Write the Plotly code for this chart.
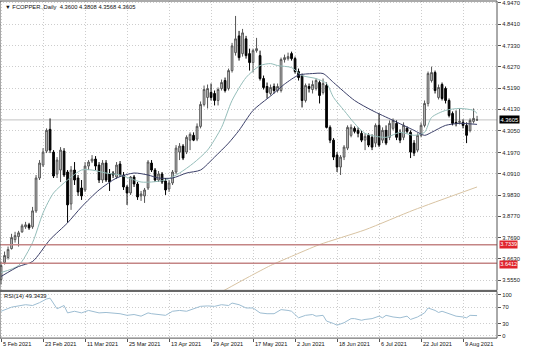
import plotly.graph_objects as go

# ---------------- data ----------------
opens = [3.560, 3.645, 3.670, 3.715, 3.760, 3.775, 3.799, 3.824, 3.834, 3.824,
         3.904, 4.069, 4.134, 4.204, 4.313, 4.199, 4.089, 4.109, 4.204, 4.099,
         3.939, 4.109, 4.069, 4.019, 4.009, 4.129, 4.154, 4.164, 4.134, 4.059,
         4.144, 4.089, 4.094, 4.074, 4.139, 4.084, 4.024, 3.994, 4.074, 4.039,
         3.979, 3.979, 4.019, 4.144, 4.109, 4.059, 4.089, 4.054, 4.014, 4.044,
         4.099, 4.199, 4.229, 4.199, 4.259, 4.283, 4.264, 4.328, 4.438, 4.473,
         4.498, 4.493, 4.458, 4.518, 4.558, 4.518, 4.608, 4.698, 4.782, 4.693,
         4.767, 4.693, 4.648, 4.708, 4.683, 4.568, 4.528, 4.493, 4.528, 4.508,
         4.508, 4.663, 4.668, 4.693, 4.668, 4.603, 4.583, 4.458, 4.528, 4.513,
         4.518, 4.548, 4.498, 4.533, 4.323, 4.259, 4.184, 4.124, 4.174, 4.219,
         4.283, 4.318, 4.308, 4.293, 4.259, 4.283, 4.273, 4.244, 4.333, 4.259,
         4.308, 4.273, 4.318, 4.343, 4.298, 4.273, 4.318, 4.298, 4.244, 4.209,
         4.283, 4.333, 4.443, 4.558, 4.598, 4.473, 4.538, 4.518, 4.458, 4.393,
         4.348, 4.348, 4.348, 4.333, 4.308, 4.353, 4.3600]
highs = [3.650, 3.700, 3.725, 3.789, 3.799, 3.804, 3.839, 3.849, 3.844, 3.924,
         4.084, 4.159, 4.219, 4.318, 4.368, 4.209, 4.174, 4.224, 4.219, 4.109,
         4.129, 4.149, 4.084, 4.059, 4.149, 4.159, 4.184, 4.179, 4.149, 4.159,
         4.159, 4.114, 4.104, 4.149, 4.154, 4.099, 4.034, 4.079, 4.084, 4.049,
         4.004, 4.019, 4.159, 4.159, 4.119, 4.104, 4.099, 4.069, 4.059, 4.109,
         4.234, 4.244, 4.239, 4.283, 4.298, 4.298, 4.343, 4.453, 4.533, 4.538,
         4.543, 4.508, 4.523, 4.563, 4.573, 4.618, 4.747, 4.882, 4.807, 4.817,
         4.782, 4.718, 4.718, 4.772, 4.708, 4.583, 4.548, 4.538, 4.543, 4.543,
         4.673, 4.688, 4.698, 4.703, 4.678, 4.618, 4.593, 4.543, 4.543, 4.558,
         4.568, 4.558, 4.568, 4.548, 4.333, 4.269, 4.199, 4.184, 4.234, 4.333,
         4.338, 4.328, 4.323, 4.308, 4.293, 4.293, 4.288, 4.343, 4.393, 4.323,
         4.333, 4.358, 4.368, 4.358, 4.313, 4.348, 4.328, 4.308, 4.259, 4.293,
         4.348, 4.458, 4.603, 4.628, 4.608, 4.538, 4.548, 4.528, 4.468, 4.403,
         4.408, 4.418, 4.363, 4.348, 4.368, 4.418, 4.3808]
lows = [3.535, 3.635, 3.660, 3.710, 3.745, 3.725, 3.794, 3.814, 3.809, 3.814,
        3.894, 4.059, 4.124, 4.194, 4.194, 4.069, 4.069, 4.049, 4.074, 3.844,
        3.909, 4.034, 3.979, 3.959, 3.999, 4.109, 4.144, 4.109, 4.044, 4.044,
        4.049, 4.004, 4.069, 4.064, 4.074, 4.009, 3.934, 3.984, 4.024, 3.959,
        3.954, 3.944, 4.009, 4.099, 4.049, 4.049, 4.039, 3.984, 3.999, 4.034,
        4.089, 4.159, 4.159, 4.189, 4.209, 4.254, 4.254, 4.318, 4.428, 4.418,
        4.458, 4.433, 4.433, 4.508, 4.498, 4.508, 4.598, 4.683, 4.658, 4.678,
        4.668, 4.608, 4.598, 4.698, 4.558, 4.513, 4.468, 4.483, 4.493, 4.498,
        4.498, 4.648, 4.658, 4.658, 4.593, 4.558, 4.423, 4.448, 4.498, 4.493,
        4.508, 4.443, 4.488, 4.318, 4.244, 4.159, 4.099, 4.084, 4.159, 4.209,
        4.273, 4.293, 4.273, 4.249, 4.209, 4.224, 4.209, 4.224, 4.224, 4.244,
        4.234, 4.259, 4.308, 4.259, 4.244, 4.259, 4.293, 4.169, 4.179, 4.199,
        4.273, 4.323, 4.428, 4.548, 4.493, 4.463, 4.458, 4.443, 4.373, 4.333,
        4.328, 4.338, 4.318, 4.244, 4.298, 4.343, 4.3568]
closes = [3.630, 3.680, 3.710, 3.770, 3.780, 3.794, 3.829, 3.834, 3.819, 3.904,
          4.069, 4.144, 4.199, 4.308, 4.209, 4.079, 4.159, 4.209, 4.084, 3.934,
          4.109, 4.059, 3.999, 3.979, 4.129, 4.149, 4.164, 4.129, 4.059, 4.144,
          4.059, 4.049, 4.084, 4.134, 4.084, 4.024, 3.994, 4.074, 4.039, 3.974,
          3.989, 4.009, 4.149, 4.109, 4.059, 4.089, 4.049, 4.009, 4.044, 4.099,
          4.219, 4.229, 4.169, 4.273, 4.288, 4.259, 4.328, 4.438, 4.513, 4.518,
          4.473, 4.458, 4.513, 4.548, 4.508, 4.608, 4.732, 4.767, 4.673, 4.797,
          4.683, 4.648, 4.708, 4.718, 4.568, 4.523, 4.498, 4.523, 4.508, 4.528,
          4.663, 4.673, 4.678, 4.668, 4.603, 4.573, 4.458, 4.533, 4.518, 4.538,
          4.558, 4.483, 4.543, 4.323, 4.259, 4.174, 4.124, 4.174, 4.224, 4.323,
          4.323, 4.303, 4.293, 4.259, 4.278, 4.234, 4.224, 4.333, 4.234, 4.308,
          4.244, 4.343, 4.358, 4.273, 4.259, 4.333, 4.303, 4.199, 4.194, 4.283,
          4.333, 4.443, 4.593, 4.598, 4.508, 4.523, 4.468, 4.458, 4.383, 4.343,
          4.343, 4.353, 4.333, 4.283, 4.358, 4.368, 4.3605]
bars = list(range(len(opens)))

date_tick_bars = [0, 12, 24, 36, 48, 60, 72, 84, 96, 108, 120, 132]
date_tick_labels = ["5 Feb 2021", "23 Feb 2021", "11 Mar 2021", "25 Mar 2021",
                    "13 Apr 2021", "29 Apr 2021", "17 May 2021", "2 Jun 2021",
                    "18 Jun 2021", "6 Jul 2021", "22 Jul 2021", "9 Aug 2021"]

price_ticks = [4.947, 4.841, 4.733, 4.627, 4.519, 4.413, 4.305, 4.197, 4.091,
               3.983, 3.877, 3.769, 3.663, 3.555]
price_tick_labels = ["4.9470", "4.8410", "4.7330", "4.6270", "4.5190", "4.4130",
                     "4.3050", "4.1970", "4.0910", "3.9830", "3.8770", "3.7690",
                     "3.6630", "3.5550"]

ma_fast_bars = [0, 5, 9, 12, 15, 19, 23, 26, 30, 34, 40, 43, 47, 51, 55, 59, 63, 66,
                70, 74, 77, 79, 83, 86, 90, 93, 95, 98, 101, 104, 110, 114, 118, 121,
                123, 127, 131, 135, 136]
ma_fast = [3.595, 3.630, 3.745, 3.894, 3.994, 4.059, 4.109, 4.109, 4.094, 4.084,
           4.049, 4.049, 4.059, 4.094, 4.144, 4.209, 4.323, 4.458, 4.573, 4.633,
           4.643, 4.633, 4.623, 4.583, 4.568, 4.543, 4.473, 4.408, 4.343, 4.293,
           4.273, 4.298, 4.283, 4.298, 4.373, 4.408, 4.418, 4.408, 4.393]

ma_slow_bars = [0, 5, 9, 14, 19, 23, 28, 33, 38, 42, 45, 49, 53, 57, 61, 65, 68, 72,
                77, 79, 81, 85, 89, 92, 95, 101, 106, 112, 118, 121, 123, 127, 131, 136]
ma_slow = [3.575, 3.625, 3.650, 3.760, 3.844, 3.924, 4.009, 4.069, 4.094, 4.084,
           4.069, 4.069, 4.094, 4.109, 4.174, 4.244, 4.308, 4.408, 4.480, 4.510,
           4.540, 4.585, 4.593, 4.593, 4.548, 4.458, 4.408, 4.358, 4.308, 4.283,
           4.298, 4.333, 4.343, 4.338]

ma_long_bars = [63, 71, 77, 83, 91, 104, 118, 136]
ma_long = [3.498, 3.575, 3.630, 3.676, 3.735, 3.809, 3.909, 4.024]

rsi_bars = [0, 3, 7, 9, 11, 13, 14, 16, 18, 19, 21, 23, 25, 26, 28, 30, 32, 34, 36, 38,
            40, 42, 43, 45, 47, 49, 51, 53, 55, 57, 59, 61, 63, 65, 66, 68, 70, 72, 74, 76,
            78, 80, 82, 83, 85, 87, 89, 90, 92, 93, 95, 96, 98, 100, 101, 103, 104, 106,
            108, 109, 110, 112, 114, 116, 117, 119, 121, 122, 124, 125, 126, 128, 130,
            132, 133, 134, 136]
rsi_vals = [60, 70, 76, 74, 81, 90, 92, 66, 74, 56, 60, 56, 62, 60, 56, 57, 56, 54, 50, 52,
            48, 56, 54, 52, 50, 60, 62, 60, 66, 72, 73, 72, 76, 74, 80, 76, 68, 68, 56, 54,
            54, 64, 62, 60, 44, 50, 52, 48, 50, 36, 30, 26, 32, 42, 42, 38, 40, 42,
            48, 44, 50, 46, 44, 48, 40, 46, 56, 68, 62, 57, 60, 54, 48,
            46, 44, 50, 49.34]
rsi_ticks = [100, 70, 30, 0]
rsi_text = "RSI(14) 49.3439"

level_lines = [3.7339, 3.6412]
level_labels = ["3.7339", "3.6412"]
last_price = 4.3605
last_label = "4.3605"
title_text = "\u25bc FCOPPER.,Daily  4.3600 4.3808 4.3568 4.3605"

# ---------------- layout constants ----------------
W, H = 536, 361
XR = 497 / W
MAIN_DOM = [1 - 291 / H, 1]
RSI_DOM = [1 - 339 / H, 1 - 292 / H]
FONT = "Liberation Sans, Arial, sans-serif"
GRID = "#cdcdcd"
DASH = "1px,2px"

fig = go.Figure()
fig.add_trace(go.Candlestick(
    x=bars, open=opens, high=highs, low=lows, close=closes,
    increasing=dict(line=dict(color="#555555", width=1), fillcolor="#d2d2d2"),
    decreasing=dict(line=dict(color="#000000", width=1), fillcolor="#000000"),
    whiskerwidth=0, hoverinfo="skip", xaxis="x", yaxis="y"))

fig.add_trace(go.Scatter(x=ma_long_bars, y=ma_long, mode="lines",
                         line=dict(color="#d8c3a2", width=1, shape="spline", smoothing=0.6),
                         xaxis="x", yaxis="y", hoverinfo="skip"))
fig.add_trace(go.Scatter(x=ma_fast_bars, y=ma_fast, mode="lines",
                         line=dict(color="#94bdb9", width=1, shape="spline", smoothing=0.7),
                         xaxis="x", yaxis="y", hoverinfo="skip"))
fig.add_trace(go.Scatter(x=ma_slow_bars, y=ma_slow, mode="lines",
                         line=dict(color="#3b3f68", width=1, shape="spline", smoothing=0.7),
                         xaxis="x", yaxis="y", hoverinfo="skip"))

fig.add_trace(go.Scatter(x=rsi_bars, y=rsi_vals, mode="lines",
                         line=dict(color="#9dbdd2", width=1),
                         xaxis="x2", yaxis="y2", hoverinfo="skip"))

shapes = []
shapes.append(dict(type="line", xref="paper", yref="y", x0=0, x1=XR,
                   y0=last_price, y1=last_price, line=dict(color="#c2c2c2", width=1), layer="below"))
for lv in level_lines:
    shapes.append(dict(type="line", xref="paper", yref="y", x0=0, x1=XR,
                       y0=lv, y1=lv, line=dict(color="#c48585", width=1.5)))
shapes.append(dict(type="rect", xref="paper", yref="paper", x0=0, x1=XR,
                   y0=MAIN_DOM[0], y1=MAIN_DOM[1], line=dict(color="#555555", width=1)))
shapes.append(dict(type="rect", xref="paper", yref="paper", x0=0, x1=XR,
                   y0=RSI_DOM[0], y1=RSI_DOM[1], line=dict(color="#555555", width=1)))

annotations = []
annotations.append(dict(text=title_text, xref="paper", yref="paper", x=3 / W, y=1 - 6 / H,
                        xanchor="left", yanchor="middle", showarrow=False,
                        font=dict(family=FONT, size=5.8, color="#111111")))
annotations.append(dict(text=rsi_text, xref="paper", yref="paper", x=2 / W, y=1 - 297 / H,
                        xanchor="left", yanchor="middle", showarrow=False,
                        font=dict(family=FONT, size=5.8, color="#111111")))
for b, lab in zip(date_tick_bars, date_tick_labels):
    annotations.append(dict(text=lab, xref="x", yref="paper", x=b, y=1 - 345 / H,
                            xanchor="left", yanchor="middle", showarrow=False,
                            font=dict(family=FONT, size=5.6, color="#111111")))
annotations.append(dict(text=last_label, xref="paper", yref="y", x=499 / W, y=last_price,
                        xanchor="left", yanchor="middle", showarrow=False, bgcolor="#000000",
                        borderpad=0.5, font=dict(family=FONT, size=5.8, color="#ffffff")))
for lv, lab, shift in zip(level_lines, level_labels, [0, -1.5]):
    annotations.append(dict(text=lab, xref="paper", yref="y", x=499 / W, y=lv, yshift=shift,
                            xanchor="left", yanchor="middle", showarrow=False, bgcolor="#e0242c",
                            borderpad=0.3, font=dict(family=FONT, size=5.5, color="#ffffff")))

fig.update_layout(
    width=W, height=H, margin=dict(l=0, r=0, t=0, b=0),
    paper_bgcolor="white", plot_bgcolor="white", showlegend=False,
    font=dict(family=FONT, size=6, color="#222222"),
    shapes=shapes, annotations=annotations,
    xaxis=dict(domain=[0, XR], range=[-0.3, 141.7], anchor="y",
               tickvals=date_tick_bars, showticklabels=False, ticks="",
               showgrid=True, gridcolor=GRID, griddash=DASH, gridwidth=1,
               zeroline=False, showline=False, rangeslider=dict(visible=False),
               fixedrange=True),
    xaxis2=dict(domain=[0, XR], range=[-0.3, 141.7], anchor="y2", matches="x",
                tickvals=date_tick_bars, showticklabels=False, ticks="outside",
                ticklen=3, tickcolor="#555555",
                showgrid=True, gridcolor=GRID, griddash=DASH, gridwidth=1,
                zeroline=False, showline=False, fixedrange=True),
    yaxis=dict(domain=MAIN_DOM, range=[3.5052, 4.957], anchor="x", side="right",
               tickvals=price_ticks, ticktext=price_tick_labels, ticks="outside",
               ticklen=3, tickcolor="#555555", tickfont=dict(size=5.8, color="#222222"),
               ticklabeloverflow="allow",
               showgrid=True, gridcolor=GRID, griddash=DASH, gridwidth=1,
               zeroline=False, showline=False, fixedrange=True),
    yaxis2=dict(domain=RSI_DOM, range=[-5.6, 108.5], anchor="x2", side="right",
                tickvals=rsi_ticks, ticks="outside", ticklen=3, tickcolor="#555555",
                tickfont=dict(size=5.8, color="#222222"), ticklabeloverflow="allow",
                showgrid=True, gridcolor=GRID, griddash=DASH, gridwidth=1,
                zeroline=False, showline=False, fixedrange=True),
)

fig.write_html("out.html")
